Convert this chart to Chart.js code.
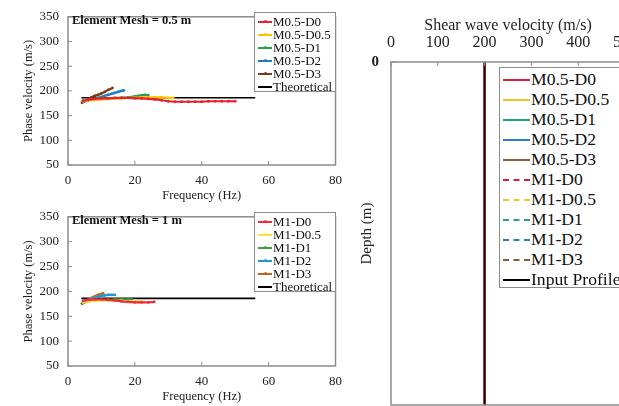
<!DOCTYPE html>
<html>
<head>
<meta charset="utf-8">
<script src="https://cdn.jsdelivr.net/npm/chart.js@4.4.1/dist/chart.umd.min.js"></script>
<style>
  body { margin: 0; width: 619px; height: 406px; overflow: hidden; background: #fff; position: relative; font-family: "Liberation Serif", serif; color: #111; }
  canvas { position: absolute; }
  #cTop { left: 0; top: 0; }
  #cBot { left: 0; top: 200px; }
  #cVs { left: 350px; top: 0; }
  .note { position: absolute; font-weight: bold; font-size: 12.5px; }
  .leg { position: absolute; background: #fff; border: 1.5px solid #8c8c8c; box-sizing: border-box; }
  .leg .row { display: flex; align-items: center; white-space: nowrap; }
  .leg .sw { position: relative; display: inline-block; flex: none; }
  .leg .dot { position: absolute; left: 50%; top: 50%; width: 3px; height: 3px; margin: -2.5px 0 0 -1.5px; border-radius: 50%; }
  .leg .txt { display: inline-block; }
  #legTop, #legBot { left: 254px; width: 82px; height: 80px; padding: 2px 0 0 3px; font-size: 13px; line-height: 13px; }
  #legTop { top: 12px; }
  #legBot { top: 212px; }
  #legVs { left: 499px; top: 67px; width: 126px; height: 221px; padding: 2px 0 0 3px; font-size: 16px; line-height: 20px; }
  #legVs .txt { transform: scaleX(1.1); transform-origin: left center; }
</style>
</head>
<body>
<canvas id="cTop" width="350" height="205"></canvas>
<canvas id="cBot" width="350" height="206"></canvas>
<canvas id="cVs" width="297" height="426"></canvas>
<div class="note" style="left:72px;top:13px">Element Mesh = 0.5 m</div>
<div class="note" style="left:72px;top:213px">Element Mesh = 1 m</div>
<div class="leg" id="legTop"></div>
<div class="leg" id="legBot"></div>
<div class="leg" id="legVs"></div>
<script>
// dispersion curves, element mesh 0.5 m
const freqM05D0 = [4.5, 6, 8, 10, 12, 14, 16, 18, 20, 22, 24, 26, 28, 30, 32, 34, 36, 38, 40, 42, 44, 46, 48, 50];
const velM05D0 = [180, 182, 184, 185, 185, 186, 186, 186, 185, 185, 184, 183, 181, 179, 178, 178, 178, 178, 178, 179, 179, 179, 179, 179];
const freqM05D05 = [4.5, 6, 8, 10, 12, 14, 16, 18, 20, 22, 24, 26, 28, 30, 31.5];
const velM05D05 = [179, 181, 182, 183, 184, 185, 185, 186, 186, 187, 187, 187, 187, 186, 186];
const freqM05D1 = [4.5, 6, 8, 10, 12, 14, 16, 18, 20, 21, 22, 23, 24];
const velM05D1 = [180, 182, 183, 184, 185, 185, 186, 187, 189, 190, 191, 192, 191];
const freqM05D2 = [4.5, 6, 8, 9, 10, 11, 12, 13, 14, 15, 16, 16.7];
const velM05D2 = [179, 181, 184, 186, 188, 190, 192, 194, 196, 198, 200, 201];
const freqM05D3 = [4.2, 5, 6, 7, 8, 9, 10, 11, 12, 13.3];
const velM05D3 = [176, 179, 183, 187, 190, 192, 195, 198, 202, 206];

// dispersion curves, element mesh 1 m
const freqM1D0 = [4.5, 6, 8, 10, 12, 14, 16, 18, 20, 22, 24, 25.8];
const velM1D0 = [181, 183, 184, 184, 183, 182, 180, 179, 178, 178, 178, 179];
const freqM1D05 = [4.5, 6, 8, 10, 12, 14, 16, 18, 20, 22];
const velM1D05 = [178, 180, 181, 182, 182, 181, 181, 180, 180, 180];
const freqM1D1 = [4.2, 5, 6, 8, 10, 12, 14, 16, 18, 19];
const velM1D1 = [175, 178, 180, 182, 183, 183, 184, 184, 184, 184];
const freqM1D2 = [4.5, 6, 7, 8, 9, 10, 11, 12, 13, 14];
const velM1D2 = [179, 182, 185, 187, 189, 191, 192, 193, 193, 193];
const freqM1D3 = [4.2, 5, 6, 7, 8, 9, 10, 10.5];
const velM1D3 = [176, 179, 183, 187, 190, 193, 195, 196];

const freqTheory = [4, 56];
const velTheory = [186, 186];

// shear wave velocity profile (all models sit on the input profile)
const depthProfile = [0, 30];
const vsProfile = [200, 200];

const labelsTop = ['M0.5-D0', 'M0.5-D0.5', 'M0.5-D1', 'M0.5-D2', 'M0.5-D3', 'Theoretical'];
const labelsBot = ['M1-D0', 'M1-D0.5', 'M1-D1', 'M1-D2', 'M1-D3', 'Theoretical'];
const labelsVs = ['M0.5-D0', 'M0.5-D0.5', 'M0.5-D1', 'M0.5-D2', 'M0.5-D3',
  'M1-D0', 'M1-D0.5', 'M1-D1', 'M1-D2', 'M1-D3', 'Input Profile'];

const freqTicks = [0, 20, 40, 60, 80];
const velTicks = [50, 100, 150, 200, 250, 300, 350];
const vsTicks = [0, 100, 200, 300, 400, 500];
const depthTicks = [0];

const colTop = ['#e8212b', '#ffc000', '#1fa64a', '#1f7fc4', '#7a3b14', '#000000'];
const colBot = ['#ee2a3b', '#ffe040', '#3f9f3a', '#1d9bd1', '#c0661f', '#000000'];
const colVs = ['#d8203a', '#f2c12e', '#1fa67a', '#2f7bbf', '#8a5a3a',
  '#d8203a', '#f2c12e', '#1fa67a', '#2f7bbf', '#8a5a3a', '#000000'];

const pts = (xs, ys) => xs.map((x, i) => ({ x: x, y: ys[i] }));

// plot frame plus small inward tick marks
const frame = {
  id: 'frame',
  afterDraw(chart) {
    const { ctx, chartArea: a, scales } = chart;
    ctx.save();
    ctx.strokeStyle = '#8c8c8c';
    ctx.lineWidth = 1.5;
    ctx.strokeRect(a.left, a.top, a.right - a.left, a.bottom - a.top);
    ctx.lineWidth = 1;
    ctx.beginPath();
    const xs = scales.x;
    const xEdge = xs.position === 'top' ? a.top : a.bottom;
    const dir = xs.position === 'top' ? 1 : -1;
    xs.ticks.forEach((t) => {
      const px = xs.getPixelForValue(t.value);
      ctx.moveTo(px, xEdge);
      ctx.lineTo(px, xEdge + dir * 4);
    });
    const ys = scales.y;
    ys.ticks.forEach((t) => {
      const py = ys.getPixelForValue(t.value);
      ctx.moveTo(a.left, py);
      ctx.lineTo(a.left + 4, py);
    });
    ctx.stroke();
    ctx.restore();
  }
};

const serif = '"Liberation Serif", serif';

function phaseChart(id, series, labels, colors) {
  const datasets = series.map((s, i) => {
    const theory = i === series.length - 1;
    return {
      label: labels[i],
      data: pts(s[0], s[1]),
      showLine: true,
      borderColor: colors[i],
      backgroundColor: colors[i],
      borderWidth: theory ? 1.6 : 2.2,
      pointRadius: theory ? 0 : 1.4,
      pointBorderWidth: 0,
    };
  });
  return new Chart(document.getElementById(id), {
    type: 'scatter',
    data: { datasets: datasets },
    options: {
      responsive: false,
      animation: false,
      layout: { padding: { left: 14, top: 8, right: 8, bottom: 0 } },
      plugins: { legend: { display: false }, tooltip: { enabled: false } },
      scales: {
        x: {
          min: 0, max: 80,
          afterBuildTicks: (s) => { s.ticks = freqTicks.map((v) => ({ value: v })); },
          afterFit: (s) => { s.height = 40; },
          grid: { display: false, drawTicks: false },
          border: { display: false },
          ticks: { color: '#222', padding: 8, font: { family: serif, size: 13 } },
          title: { display: true, text: 'Frequency (Hz)', color: '#222', padding: { top: 0, bottom: 2 }, font: { family: serif, size: 12.5 } },
        },
        y: {
          min: 50, max: 350,
          afterBuildTicks: (s) => { s.ticks = velTicks.map((v) => ({ value: v })); },
          afterFit: (s) => { s.width = 54; },
          grid: { display: false, drawTicks: false },
          border: { display: false },
          ticks: { color: '#222', padding: 9, font: { family: serif, size: 13 } },
          title: { display: true, text: 'Phase velocity (m/s)', color: '#222', padding: { top: 7, bottom: 0 }, font: { family: serif, size: 12.5 } },
        },
      },
    },
    plugins: [frame],
  });
}

phaseChart('cTop', [
  [freqM05D0, velM05D0], [freqM05D05, velM05D05], [freqM05D1, velM05D1],
  [freqM05D2, velM05D2], [freqM05D3, velM05D3], [freqTheory, velTheory],
], labelsTop, colTop);

phaseChart('cBot', [
  [freqM1D0, velM1D0], [freqM1D05, velM1D05], [freqM1D1, velM1D1],
  [freqM1D2, velM1D2], [freqM1D3, velM1D3], [freqTheory, velTheory],
], labelsBot, colBot);

// Vs profile chart, input profile drawn on top of the model lines
const vsSets = labelsVs.map((lab, i) => {
  const input = i === labelsVs.length - 1;
  return {
    label: lab,
    data: pts(vsProfile, depthProfile),
    showLine: true,
    borderColor: colVs[i],
    borderWidth: input ? 1.6 : 2.6,
    borderDash: i >= 5 && i < 10 ? [3, 2] : [],
    pointRadius: 0,
    order: input ? -1 : 0,
  };
});

new Chart(document.getElementById('cVs'), {
  type: 'scatter',
  data: { datasets: vsSets },
  options: {
    responsive: false,
    animation: false,
    layout: { padding: { left: 0, top: 5, right: 0, bottom: 0 } },
    plugins: { legend: { display: false }, tooltip: { enabled: false } },
    scales: {
      x: {
        position: 'top',
        min: 0, max: 500,
        afterBuildTicks: (s) => { s.ticks = vsTicks.map((v) => ({ value: v })); },
        afterFit: (s) => { s.height = 57; },
        grid: { display: false, drawTicks: false },
        border: { display: false },
        ticks: { color: '#222', padding: 10, font: { family: serif, size: 16 } },
        title: { display: true, text: 'Shear wave velocity (m/s)', color: '#222', padding: { top: 11, bottom: 0 }, font: { family: serif, size: 16 } },
      },
      y: {
        reverse: true,
        min: 0, max: 30,
        afterBuildTicks: (s) => { s.ticks = depthTicks.map((v) => ({ value: v })); },
        afterFit: (s) => { s.width = 41; },
        grid: { display: false, drawTicks: false },
        border: { display: false },
        ticks: { color: '#222', padding: 12, font: { family: serif, size: 15, weight: 'bold' } },
        title: { display: true, text: 'Depth (m)', color: '#222', padding: { top: 8, bottom: 0 }, font: { family: serif, size: 15 } },
      },
    },
  },
  plugins: [frame],
});

// legends
function buildLegend(id, labels, colors, swW, dashed, dots) {
  const box = document.getElementById(id);
  labels.forEach((lab, i) => {
    const row = document.createElement('div');
    row.className = 'row';
    const sw = document.createElement('span');
    sw.className = 'sw';
    sw.style.width = swW + 'px';
    sw.style.height = '0';
    sw.style.borderTop = '2px ' + (dashed(i) ? 'dashed ' : 'solid ') + colors[i];
    sw.style.marginRight = '1px';
    if (dots && i < labels.length - 1) {
      const d = document.createElement('span');
      d.className = 'dot';
      d.style.background = colors[i];
      sw.appendChild(d);
    }
    const t = document.createElement('span');
    t.className = 'txt';
    t.textContent = lab;
    row.appendChild(sw);
    row.appendChild(t);
    box.appendChild(row);
  });
}

buildLegend('legTop', labelsTop, colTop, 14, () => false, true);
buildLegend('legBot', labelsBot, colBot, 14, () => false, true);
buildLegend('legVs', labelsVs, colVs, 27, (i) => i >= 5 && i < 10, false);
</script>
</body>
</html>
